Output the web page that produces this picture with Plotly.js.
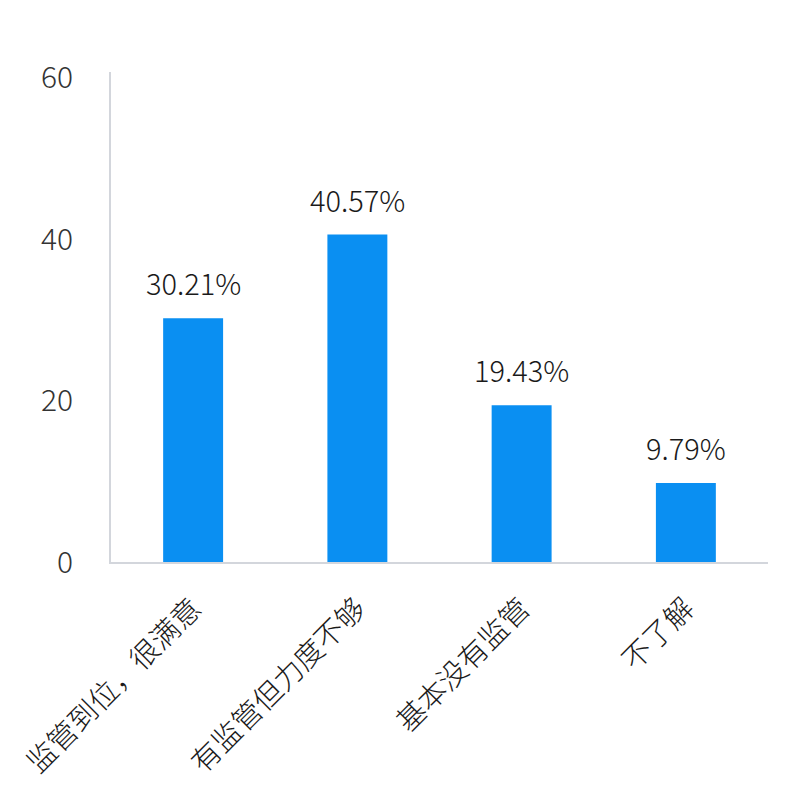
<!DOCTYPE html>
<html>
<head>
<meta charset="utf-8">
<script src="https://cdn.plot.ly/plotly-3.0.1.min.js"></script>
<style>
  html, body { margin: 0; padding: 0; background: #fff; }
  #chart { width: 800px; height: 809px; }
</style>
</head>
<body>
<div id="chart"></div>
<script>
// survey answers and their share (%)
const categories = ['监管到位，很满意', '有监管但力度不够', '基本没有监管', '不了解'];
const shares = [30.21, 40.57, 19.43, 9.79];
const yTicks = [0, 20, 40, 60];

const fontFamily = '"Noto Sans CJK SC", "Noto Sans", sans-serif';

const bars = {
    type: 'bar',
    x: categories,
    y: shares,
    marker: { color: '#0a8ff2' },
    hoverinfo: 'x+y'
};

// value labels sit a little above each bar
const labels = categories.map((c, i) => ({
    x: c,
    y: shares[i],
    text: shares[i].toFixed(2) + '%',
    showarrow: false,
    yanchor: 'bottom',
    yshift: 13,
    font: { family: fontFamily, size: 29, weight: 300, color: '#1a1a1a' }
}));

const layout = {
    width: 800,
    height: 809,
    margin: { t: 72, r: 32, b: 247, l: 111 },
    paper_bgcolor: 'white',
    plot_bgcolor: 'white',
    showlegend: false,
    bargap: 0.635,
    font: { family: fontFamily, color: '#222' },
    xaxis: {
        type: 'category',
        tickangle: -45,
        showline: true,
        linecolor: '#d3d6dc',
        linewidth: 2,
        showgrid: false,
        ticks: '',
        ticklabelstandoff: 16,
        tickfont: { family: fontFamily, size: 29, weight: 300, color: '#1a1a1a' }
    },
    yaxis: {
        range: [0, 60.7],
        tickvals: yTicks,
        showline: true,
        linecolor: '#d3d6dc',
        linewidth: 2,
        showgrid: false,
        zeroline: false,
        ticks: '',
        ticklabelstandoff: 30,
        tickfont: { family: fontFamily, size: 30, weight: 300, color: '#333' }
    },
    annotations: labels
};

Plotly.newPlot('chart', [bars], layout, { displayModeBar: false, staticPlot: true });
</script>
</body>
</html>
